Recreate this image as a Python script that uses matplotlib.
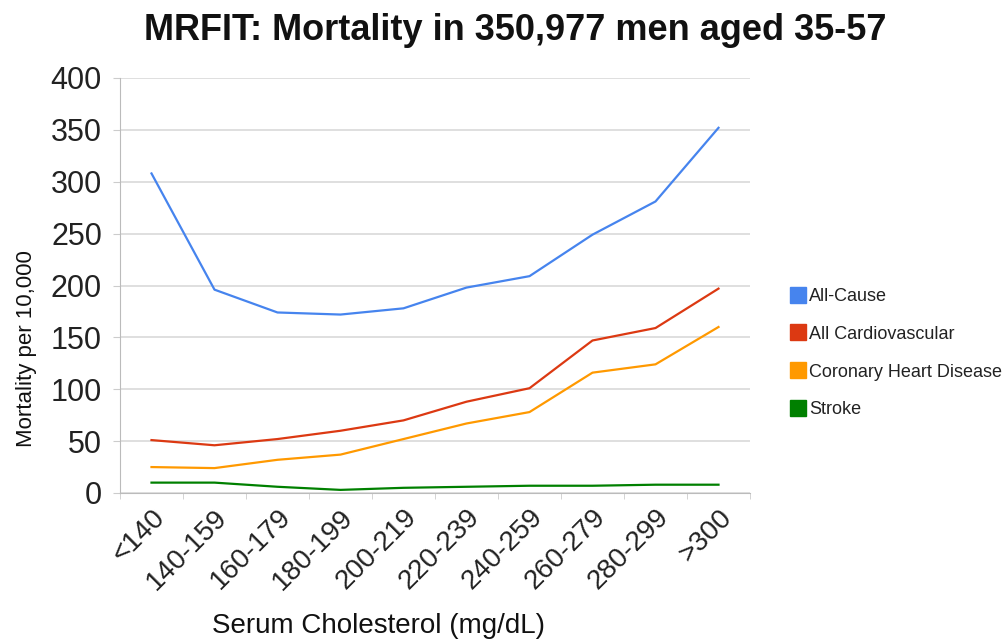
import matplotlib
matplotlib.use("Agg")
import matplotlib.pyplot as plt
import matplotlib.transforms as mtransforms
from matplotlib.lines import Line2D

plt.rcParams['font.family'] = ['Liberation Sans', 'DejaVu Sans']

categories = ["<140", "140-159", "160-179", "180-199", "200-219",
              "220-239", "240-259", "260-279", "280-299", ">300"]
all_cause = [308, 196, 174, 172, 178, 198, 209, 249, 281, 352]
all_cardio = [51, 46, 52, 60, 70, 88, 101, 147, 159, 197]
chd = [25, 24, 32, 37, 52, 67, 78, 116, 124, 160]
stroke = [10, 10, 6, 3, 5, 6, 7, 7, 8, 8]

series_names = ["All-Cause", "All Cardiovascular", "Coronary Heart Disease", "Stroke"]
series_values = [all_cause, all_cardio, chd, stroke]
colors = ["#4684EE", "#DC3912", "#FF9900", "#008000"]

fig = plt.figure(figsize=(10.06, 6.44), dpi=100)
ax = fig.add_axes([120/1006, 1-493/644, 630/1006, 415/644])

x = list(range(len(categories)))
for vals, c in zip(series_values, colors):
    ax.plot(x, vals, color=c, lw=1.6, solid_joinstyle='round')

ax.set_xlim(-0.5, len(categories) - 0.5)
ax.set_ylim(0, 400)
ax.set_yticks(range(0, 401, 50))
ax.yaxis.grid(True, color="#d9d9d9", lw=1.2)
ax.set_axisbelow(True)

ax.set_xticks(x)
ax.set_xticklabels(categories, rotation=45, ha='right', va='top',
                   rotation_mode='anchor', fontsize=20, color='#222222')
offset = mtransforms.ScaledTranslation(-6/100, 2/100, fig.dpi_scale_trans)
for lbl in ax.get_xticklabels():
    lbl.set_transform(lbl.get_transform() + offset)
ax.set_xticks([i - 0.5 for i in range(len(categories) + 1)], minor=True)
ax.tick_params(axis='x', which='major', length=0, pad=8)
ax.tick_params(axis='x', which='minor', length=4, color='#cccccc')
ax.tick_params(axis='y', length=5, color='#cccccc', labelsize=22,
               labelcolor='#222222', pad=8)

for s in ['top', 'right']:
    ax.spines[s].set_visible(False)
ax.spines['left'].set_color('#bbbbbb')
ax.spines['bottom'].set_color('#bbbbbb')

ax.set_ylabel("Mortality per 10,000", fontsize=16, color='#111111')
ax.yaxis.set_label_coords(-0.132, 0.347)

fig.text(379/1006, 1-626/644, "Serum Cholesterol (mg/dL)", fontsize=20,
         ha='center', va='center', color='#111111')
fig.text(515/1006, 1-30/644, "MRFIT: Mortality in 350,977 men aged 35-57",
         fontsize=26, fontweight='bold', ha='center', va='center', color='#111111')

handles = [Line2D([], [], marker='s', linestyle='none', markersize=12,
                  markerfacecolor=c, markeredgecolor=c) for c in colors]
fig.legend(handles, series_names, loc='upper left',
           bbox_to_anchor=(780/1006, 1-279/644), bbox_transform=fig.transFigure,
           frameon=False, fontsize=13, labelspacing=1.15, handletextpad=0.1,
           borderpad=0, handlelength=1.0, labelcolor='#222222')

fig.savefig("out.png", dpi=100, facecolor='white')
